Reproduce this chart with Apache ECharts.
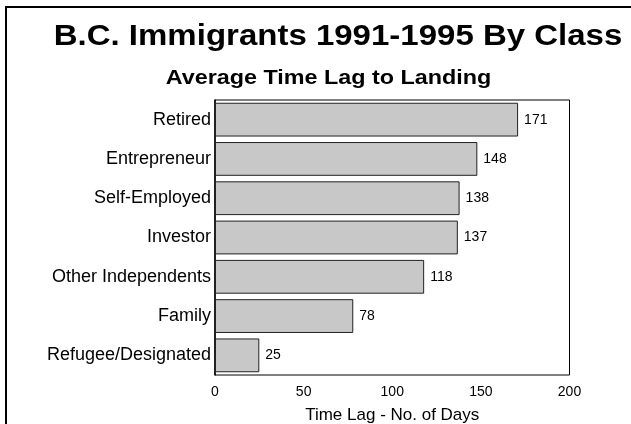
<!DOCTYPE html>
<html><head><meta charset="utf-8">
<script src="https://cdn.jsdelivr.net/npm/echarts@6/dist/echarts.min.js"></script>
<style>html,body{margin:0;padding:0;background:#fff}#c{width:631px;height:424px}</style>
</head><body><div id="c"></div>
<script>
const categories = ["Retired","Entrepreneur","Self-Employed","Investor","Other Independents","Family","Refugee/Designated"];
const values = [171,148,138,137,118,78,25];
const xTicks = [0,50,100,150,200];
const titleText = 'B.C. Immigrants 1991-1995 By Class';
const subtitleText = 'Average Time Lag to Landing';
const axisTitle = 'Time Lag - No. of Days';
const FONT = '"Liberation Sans", Arial, sans-serif';
const chart = echarts.init(document.getElementById('c'), null, {renderer:'canvas'});
chart.setOption({
  animation:false,
  backgroundColor:'#fff',
  graphic:[
    {type:'rect', shape:{x:6, y:7, width:700, height:700}, style:{fill:'none', stroke:'#000', lineWidth:2}, silent:true},
    {type:'text', x:338, y:36.5, scaleX:1.138, silent:true,
     style:{text:titleText, fontFamily:FONT, fontSize:29, fontWeight:'bold', fill:'#000',
            textAlign:'center', textVerticalAlign:'middle', align:'center', verticalAlign:'middle'}},
    {type:'text', x:328.5, y:78.5, scaleX:1.112, silent:true,
     style:{text:subtitleText, fontFamily:FONT, fontSize:21, fontWeight:'bold', fill:'#000',
            textAlign:'center', textVerticalAlign:'middle', align:'center', verticalAlign:'middle'}}
  ],
  grid:{left:215, top:100, width:354.5, height:275, show:true, borderColor:'#000', borderWidth:1,
        backgroundColor:'transparent', containLabel:false, outerBoundsMode:'none'},
  xAxis:{type:'value', min:0, max:200, interval:50,
    axisLine:{show:false}, axisTick:{show:false}, splitLine:{show:false},
    axisLabel:{fontFamily:FONT, fontSize:14, color:'#000', margin:10,
      formatter:v=> xTicks.includes(v) ? String(v) : ''},
    name:axisTitle, nameLocation:'middle', nameGap:32,
    nameTextStyle:{fontFamily:FONT, fontSize:17, color:'#000'}},
  yAxis:{type:'category', data:categories, inverse:true,
    axisLine:{show:true, lineStyle:{color:'#000', width:1.5}}, axisTick:{show:false},
    axisLabel:{fontFamily:FONT, fontSize:18, color:'#000', margin:4}},
  series:[{type:'bar', data:values, barCategoryGap:'14%',
    itemStyle:{color:'#c8c8c8', borderColor:'#222', borderWidth:1},
    label:{show:true, position:'right', distance:6, fontFamily:FONT, fontSize:14, color:'#000'}}]
});
</script></body></html>
